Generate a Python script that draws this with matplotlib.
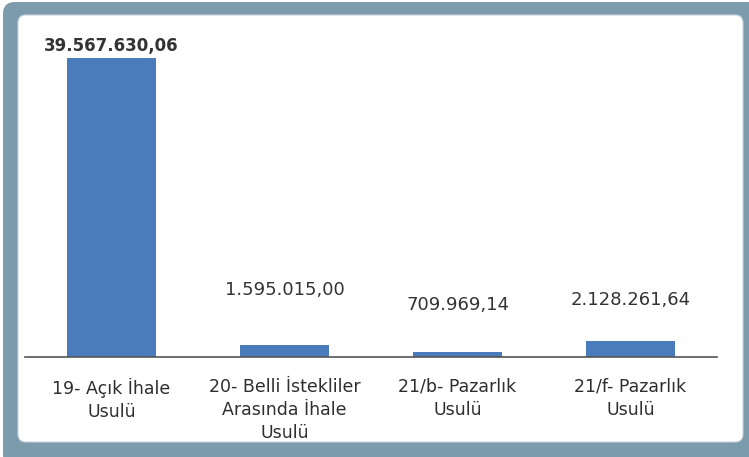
import matplotlib
matplotlib.use('Agg')
import matplotlib.pyplot as plt
from matplotlib.patches import FancyBboxPatch

categories = ["19- Açık İhale\nUsulü",
              "20- Belli İstekliler\nArasında İhale\nUsulü",
              "21/b- Pazarlık\nUsulü",
              "21/f- Pazarlık\nUsulü"]
values = [39567630.06, 1595015.00, 709969.14, 2128261.64]
value_labels = ["39.567.630,06", "1.595.015,00", "709.969,14", "2.128.261,64"]
label_offsets_px = [12, 55, 47, 41]

W, H = 749, 457
fig = plt.figure(figsize=(W / 100, H / 100), dpi=100)
fig.patch.set_facecolor('white')

outer = FancyBboxPatch((0.03, -0.10), 7.60, 4.65,
                       boxstyle="round,pad=0,rounding_size=0.12",
                       transform=fig.dpi_scale_trans, facecolor='#7c9bad',
                       edgecolor='none', zorder=-10)
inner = FancyBboxPatch((0.18, 0.15), 7.25, 4.27,
                       boxstyle="round,pad=0,rounding_size=0.08",
                       transform=fig.dpi_scale_trans, facecolor='white',
                       edgecolor='#c9d6de', linewidth=0.8, zorder=-9)
fig.add_artist(outer)
fig.add_artist(inner)

ax = fig.add_axes([25 / W, 100 / H, 692 / W, 299 / H])
ax.set_facecolor('none')
x = list(range(len(categories)))
ax.bar(x, values, width=0.515, color='#4a7bbb', zorder=2)
ax.set_xlim(-0.5, len(categories) - 0.5)
ax.set_ylim(0, max(values))

for xi, v, lbl, off in zip(x, values, value_labels, label_offsets_px):
    big = off < 20
    ax.annotate(lbl, (xi, v), xytext=(0, off), textcoords='offset pixels',
                ha='center', va='center', fontsize=12 if big else 13,
                fontweight='bold' if big else 'normal',
                color='#333333', family='DejaVu Sans', annotation_clip=False)

ax.set_xticks(x)
ax.set_xticklabels(categories, fontsize=12.5, color='#2e2e2e', family='DejaVu Sans')
for t in ax.get_xticklabels():
    t.set_linespacing(1.38)
ax.tick_params(axis='x', length=0, pad=15)
ax.set_yticks([])
for s in ['left', 'right', 'top']:
    ax.spines[s].set_visible(False)
ax.spines['bottom'].set_color('#555555')
ax.spines['bottom'].set_linewidth(1.2)

fig.savefig('out.png', dpi=100)
